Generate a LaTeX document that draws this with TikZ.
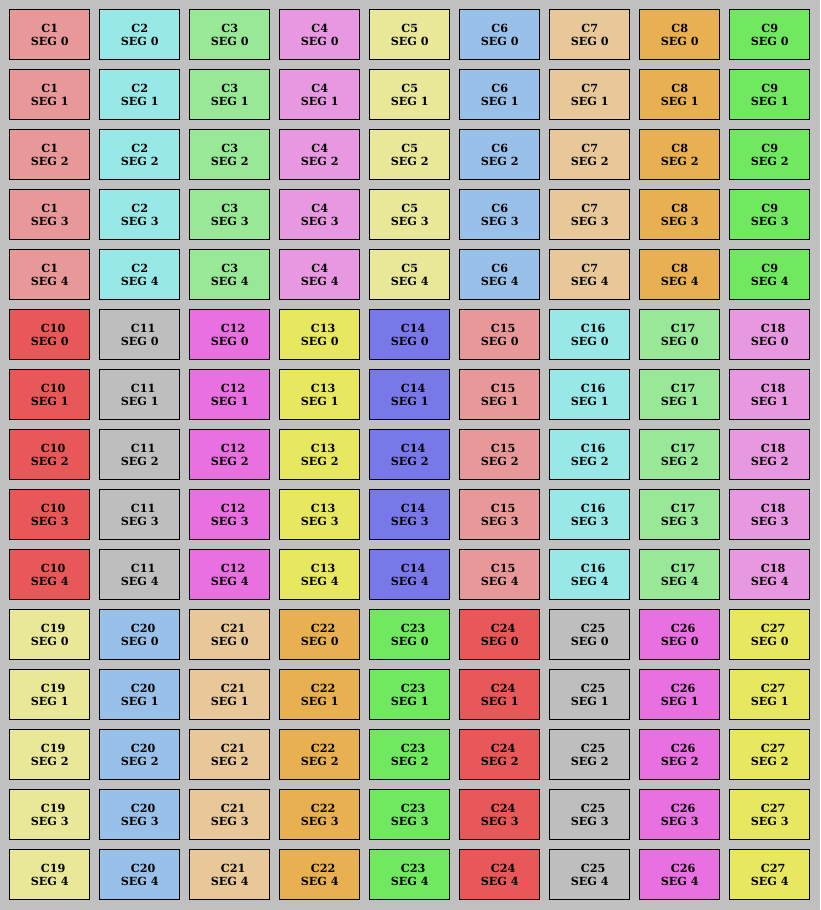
\documentclass[tikz,border=0pt]{standalone}
\usepackage{fontspec}
\newfontfamily\segfamily{DejaVu Serif}
\definecolor{bg}{HTML}{C0C0C0}
\definecolor{k1}{HTML}{E89898}
\definecolor{k2}{HTML}{98E8E8}
\definecolor{k3}{HTML}{98E898}
\definecolor{k4}{HTML}{E898E0}
\definecolor{k5}{HTML}{E8E898}
\definecolor{k6}{HTML}{98C0E8}
\definecolor{k7}{HTML}{E8C898}
\definecolor{k8}{HTML}{E8B050}
\definecolor{k9}{HTML}{70E860}
\definecolor{k10}{HTML}{E85858}
\definecolor{k11}{HTML}{BEBEBE}
\definecolor{k12}{HTML}{E870E0}
\definecolor{k13}{HTML}{E8E860}
\definecolor{k14}{HTML}{7878E8}
\newcommand{\segfont}{\segfamily\bfseries\fontsize{11.2pt}{13pt}\selectfont}
\tikzset{segbox/.style={draw=black, line width=1pt, minimum width=80pt, minimum height=50pt, inner sep=0pt, align=center, font=\segfont, anchor=north west}}
\begin{document}
\begin{tikzpicture}[x=1pt,y=-1pt]
\fill[bg] (0,0) rectangle (820,910);
\useasboundingbox (0,0) rectangle (820,910);
\foreach \blk in {0,1,2} {
  \foreach \col in {0,...,8} {
    \pgfmathtruncatemacro{\cn}{\blk*9+\col+1}
    \pgfmathtruncatemacro{\ci}{mod(\cn-1,14)+1}
    \foreach \sg in {0,...,4} {
      \pgfmathtruncatemacro{\row}{\blk*5+\sg}
      \ifnum\cn>9
        \node[segbox, fill=k\ci] (n-\row-\col) at (9.2+90*\col, 9.2+60*\row) {\hspace*{7pt}C\cn\\SEG \sg};
      \else
        \node[segbox, fill=k\ci] (n-\row-\col) at (9.2+90*\col, 9.2+60*\row) {C\cn\\SEG \sg};
      \fi
    }
  }
}
\end{tikzpicture}
\end{document}
